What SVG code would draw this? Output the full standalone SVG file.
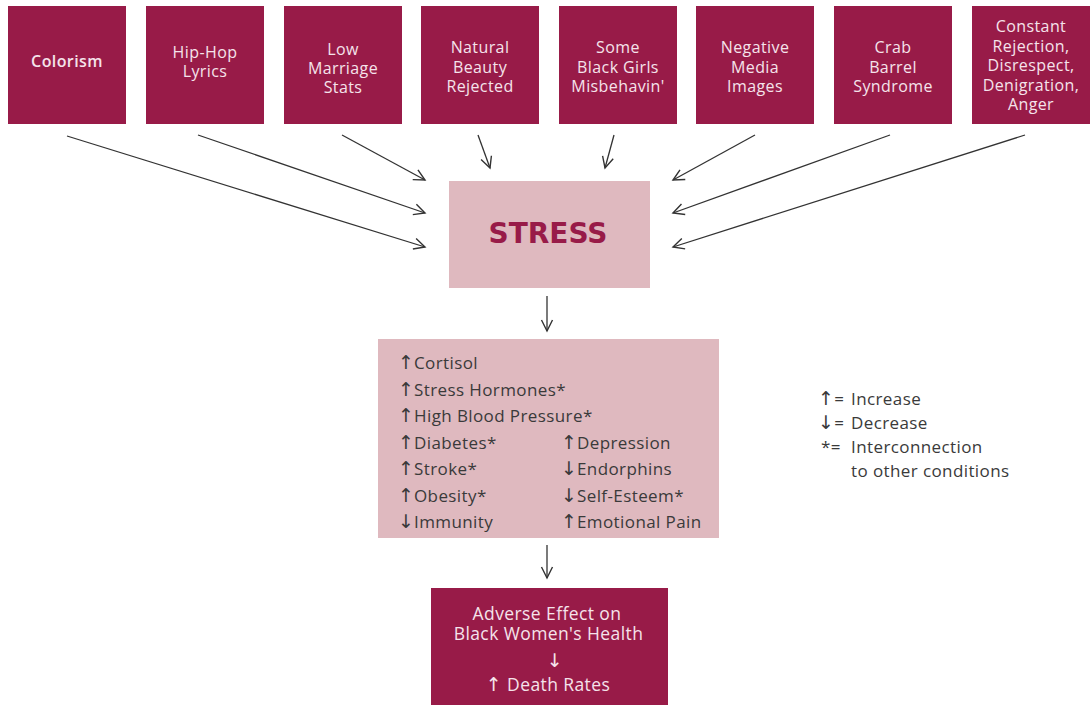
<svg xmlns="http://www.w3.org/2000/svg" width="1090" height="705" viewBox="0 0 1090 705">
<defs>
<marker id="ah" markerWidth="14" markerHeight="14" refX="12" refY="7" orient="auto" markerUnits="userSpaceOnUse">
<path d="M1,1.5 L12,7 L1,12.5" fill="none" stroke="#333" stroke-width="1.4"/>
</marker>
<style>
.src{fill:#981b48}
.lt{font-family:"Open Sans","Liberation Sans",sans-serif;font-size:16px;fill:#f5e3eb;text-anchor:middle;letter-spacing:0.4px}
.bt{font-family:"Open Sans","Liberation Sans",sans-serif;font-size:17.5px;fill:#f5e3eb;text-anchor:middle;letter-spacing:0.4px}
.bt .aw,.bt.aw{font-family:"DejaVu Sans",sans-serif;font-size:19px}
.pink{fill:#dfb9bf}
.li{font-family:"Open Sans","DejaVu Sans",sans-serif;font-size:17px;fill:#3a3a3a;letter-spacing:0.4px}
.ar{font-family:"DejaVu Sans",sans-serif;font-size:19px;fill:#3a3a3a}
.lg{font-family:"Open Sans","DejaVu Sans",sans-serif;font-size:17px;fill:#3a3a3a;letter-spacing:0.4px}
.con line{stroke:#333;stroke-width:1.3;marker-end:url(#ah)}
</style>
</defs>
<rect width="1090" height="705" fill="#fff"/>

<g id="colorism"><rect class="src" x="8" y="6" width="118" height="118"/><text class="lt" x="67" y="67" font-weight="600">Colorism</text></g>
<g id="hiphop"><rect class="src" x="146" y="6" width="118" height="118"/><text class="lt" x="205" y="58">Hip-Hop</text><text class="lt" x="205" y="77">Lyrics</text></g>
<g id="marriage"><rect class="src" x="284" y="6" width="118" height="118"/><text class="lt" x="343" y="55">Low</text><text class="lt" x="343" y="74">Marriage</text><text class="lt" x="343" y="93">Stats</text></g>
<g id="beauty"><rect class="src" x="421" y="6" width="118" height="118"/><text class="lt" x="480" y="53">Natural</text><text class="lt" x="480" y="72.5">Beauty</text><text class="lt" x="480" y="92">Rejected</text></g>
<g id="girls"><rect class="src" x="559" y="6" width="118" height="118"/><text class="lt" x="618" y="53">Some</text><text class="lt" x="618" y="72.5">Black Girls</text><text class="lt" x="618" y="92">Misbehavin'</text></g>
<g id="media"><rect class="src" x="696" y="6" width="118" height="118"/><text class="lt" x="755" y="53">Negative</text><text class="lt" x="755" y="72.5">Media</text><text class="lt" x="755" y="92">Images</text></g>
<g id="crab"><rect class="src" x="834" y="6" width="118" height="118"/><text class="lt" x="893" y="53">Crab</text><text class="lt" x="893" y="72.5">Barrel</text><text class="lt" x="893" y="91.5">Syndrome</text></g>
<g id="rejection"><rect class="src" x="972" y="6" width="118" height="118"/><text class="lt" x="1031" y="32">Constant</text><text class="lt" x="1031" y="51.5">Rejection,</text><text class="lt" x="1031" y="71">Disrespect,</text><text class="lt" x="1031" y="90.5">Denigration,</text><text class="lt" x="1031" y="110">Anger</text></g>

<g id="stress"><rect class="pink" x="449" y="181" width="201" height="107"/><text x="548" y="243" text-anchor="middle" font-family="'DejaVu Sans','Open Sans',sans-serif" font-weight="700" font-size="28" fill="#981b48">STRESS</text></g>

<g id="effects"><rect class="pink" x="378" y="339" width="341" height="199"/>
<g class="ar">
<text x="398" y="369">↑</text>
<text x="398" y="395.5">↑</text>
<text x="398" y="422">↑</text>
<text x="398" y="448.5">↑</text>
<text x="398" y="475">↑</text>
<text x="398" y="501.5">↑</text>
<text x="398" y="528">↓</text>
<text x="561" y="448.5">↑</text>
<text x="561" y="475">↓</text>
<text x="561" y="501.5">↓</text>
<text x="561" y="528">↑</text>
</g>
<g class="li">
<text x="414" y="369">Cortisol</text>
<text x="414" y="395.5">Stress Hormones*</text>
<text x="414" y="422">High Blood Pressure*</text>
<text x="414" y="448.5">Diabetes*</text>
<text x="414" y="475">Stroke*</text>
<text x="414" y="501.5">Obesity*</text>
<text x="414" y="528">Immunity</text>
<text x="577" y="448.5">Depression</text>
<text x="577" y="475">Endorphins</text>
<text x="577" y="501.5">Self-Esteem*</text>
<text x="577" y="528">Emotional Pain</text>
</g></g>

<g id="outcome"><rect class="src" x="431" y="588" width="237" height="117"/>
<text class="bt" x="547" y="620">Adverse Effect on</text>
<text class="bt" x="548.5" y="640">Black Women's Health</text>
<text class="bt aw" x="555" y="667">↓</text>
<text class="bt" x="548" y="691"><tspan class="aw">↑</tspan> Death Rates</text>
</g>

<g id="legend" class="lg">
<text x="818" y="405"><tspan class="ar">↑</tspan>=</text><text x="851" y="405">Increase</text>
<text x="818" y="429"><tspan class="ar">↓</tspan>=</text><text x="851" y="429">Decrease</text>
<text x="821" y="453">*=</text><text x="851" y="453">Interconnection</text>
<text x="851" y="477">to other conditions</text>
</g>

<g id="connectors" class="con">
<line x1="67" y1="136" x2="425" y2="247"/>
<line x1="198" y1="135" x2="425" y2="213"/>
<line x1="342" y1="135" x2="425" y2="180"/>
<line x1="478" y1="135" x2="490" y2="168"/>
<line x1="614" y1="135" x2="605" y2="168"/>
<line x1="755" y1="135" x2="673" y2="180"/>
<line x1="890" y1="135" x2="673" y2="213"/>
<line x1="1025" y1="135" x2="673" y2="247"/>
<line x1="547" y1="296" x2="547" y2="331"/>
<line x1="547" y1="545" x2="547" y2="578"/>
</g>
</svg>
